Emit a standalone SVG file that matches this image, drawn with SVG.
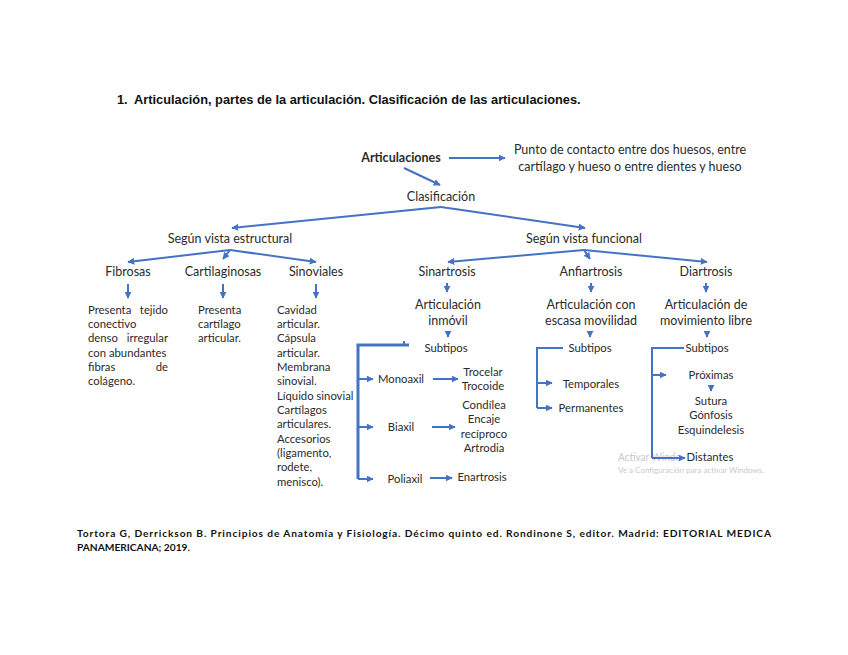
<svg xmlns="http://www.w3.org/2000/svg" width="848" height="655" viewBox="0 0 848 655">
<defs>
<style>
.t{font-family:Lato,"Noto Sans",sans-serif;font-size:12.5px;fill:#2b2b2b;text-anchor:middle}
.s{font-size:11.3px}
.p{font-family:Lato,"Noto Sans",sans-serif;font-size:11.3px;fill:#2b2b2b}
.c{fill:none;stroke:#4472C4;stroke-width:2}
.k{fill:none;stroke:#4472C4;stroke-width:3}
.a{marker-end:url(#ah)}
.wm{font-family:Lato,"Noto Sans",sans-serif;fill:#c9c9c9}
</style>
<marker id="ah" viewBox="0 0 10 10" refX="9" refY="5" markerWidth="7" markerHeight="7" markerUnits="userSpaceOnUse" orient="auto">
<path d="M0,0 L10,5 L0,10 z" fill="#4472C4"/>
</marker>
</defs>
<rect width="848" height="655" fill="#ffffff"/>
<text x="117" y="104" font-family="'Liberation Sans',Arial,sans-serif" font-size="12.8" font-weight="bold" fill="#111">1.</text>
<text x="134" y="104" font-family="'Liberation Sans',Arial,sans-serif" font-size="12.8" font-weight="bold" fill="#111">Articulación, partes de la articulación. Clasificación de las articulaciones.</text>

<g id="connectors">
<path class="c a" d="M449,158 L505,158"/>
<path class="c a" d="M404,168 L440,185"/>
<path class="c a" d="M441,207 L232,228"/>
<path class="c a" d="M441,207 L585,228"/>
<path class="c a" d="M230,250 L128,262"/>
<path class="c a" d="M230,250 L223,259"/>
<path class="c a" d="M230,250 L316,262"/>
<path class="c a" d="M584,250 L448,262"/>
<path class="c a" d="M584,250 L590,259"/>
<path class="c a" d="M584,250 L707,262"/>
<path class="c a" d="M128,284 L128,298"/>
<path class="c a" d="M223,284 L223,298"/>
<path class="c a" d="M316,284 L316,298"/>
<path class="c a" d="M447,283 L447,292"/>
<path class="c a" d="M591,283 L591,292"/>
<path class="c a" d="M706,283 L706,292"/>
<path class="c a" d="M448,331 L448,337"/>
<path class="c a" d="M590,331 L590,337"/>
<path class="c a" d="M707,331 L707,337"/>
<path class="c a" d="M711,385 L711,391"/>
<path class="k" d="M409,345 L358,345 L358,479"/>
<path class="c" d="M404,341 L404,345"/>
<path class="c a" d="M358,379 L373,379"/>
<path class="c a" d="M358,427 L373,427"/>
<path class="c a" d="M358,479 L373,479"/>
<path class="c a" d="M433,379 L458,379"/>
<path class="c a" d="M432,427 L455,427"/>
<path class="c a" d="M430,478 L452,478"/>
<path class="c" d="M563,348 L537,348 L537,408"/>
<path class="c a" d="M537,383 L552,383"/>
<path class="c a" d="M537,408 L552,408"/>
<text class="wm" x="618" y="461" font-size="11" textLength="63" lengthAdjust="spacingAndGlyphs">Activar Windo</text>
<text class="wm" x="618" y="473" font-size="8">Ve a Configuración para activar Windows.</text>
<path class="c" d="M684,348 L652,348 L652,458"/>
<path class="c a" d="M652,375 L666,375"/>
<path class="c a" d="M652,458 L685,458"/>
</g>

<g id="articulaciones"><text class="t" x="401" y="162" font-weight="bold" fill="#111">Articulaciones</text></g>
<g id="definicion">
<text class="t" x="630" y="154">Punto de contacto entre dos huesos, entre</text>
<text class="t" x="630" y="171">cartílago y hueso o entre dientes y hueso</text>
</g>
<g id="clasificacion"><text class="t" x="441" y="201">Clasificación</text></g>
<g id="estructural"><text class="t" x="230" y="243">Según vista estructural</text></g>
<g id="funcional"><text class="t" x="584" y="243">Según vista funcional</text></g>

<g id="fibrosas">
<text class="t" x="128" y="276">Fibrosas</text>
<text class="p" x="88" y="314">Presenta</text><text class="p" x="168" y="314" text-anchor="end">tejido</text>
<text class="p" x="88" y="328">conectivo</text>
<text class="p" x="88" y="342">denso</text><text class="p" x="168" y="342" text-anchor="end">irregular</text>
<text class="p" x="88" y="357">con abundantes</text>
<text class="p" x="88" y="371">fibras</text><text class="p" x="168" y="371" text-anchor="end">de</text>
<text class="p" x="88" y="385">colágeno.</text>
</g>
<g id="cartilaginosas">
<text class="t" x="223" y="276">Cartilaginosas</text>
<text class="p" x="198" y="314">Presenta</text>
<text class="p" x="198" y="328">cartílago</text>
<text class="p" x="198" y="342">articular.</text>
</g>
<g id="sinoviales">
<text class="t" x="316" y="276">Sinoviales</text>
<text class="p" x="277" y="314">Cavidad</text>
<text class="p" x="277" y="328">articular.</text>
<text class="p" x="277" y="342">Cápsula</text>
<text class="p" x="277" y="357">articular.</text>
<text class="p" x="277" y="371">Membrana</text>
<text class="p" x="277" y="385">sinovial.</text>
<text class="p" x="277" y="400">Líquido sinovial</text>
<text class="p" x="277" y="414">Cartílagos</text>
<text class="p" x="277" y="428">articulares.</text>
<text class="p" x="277" y="443">Accesorios</text>
<text class="p" x="277" y="457">(ligamento,</text>
<text class="p" x="277" y="471">rodete,</text>
<text class="p" x="277" y="486">menisco).</text>
</g>

<g id="sinartrosis">
<text class="t" x="447" y="276">Sinartrosis</text>
<text class="t" x="448" y="309">Articulación</text>
<text class="t" x="448" y="325">inmóvil</text>
<text class="t s" x="446" y="352">Subtipos</text>
</g>
<g id="monoaxil">
<text class="t s" x="401" y="383">Monoaxil</text>
<text class="t s" x="483" y="376">Trocelar</text>
<text class="t s" x="483" y="390">Trocoide</text>
</g>
<g id="biaxil">
<text class="t s" x="401" y="431">Biaxil</text>
<text class="t s" x="484" y="409">Condílea</text>
<text class="t s" x="484" y="423">Encaje</text>
<text class="t s" x="484" y="438">recíproco</text>
<text class="t s" x="484" y="452">Artrodia</text>
</g>
<g id="poliaxil">
<text class="t s" x="405" y="483">Poliaxil</text>
<text class="t s" x="482" y="481">Enartrosis</text>
</g>

<g id="anfiartrosis">
<text class="t" x="591" y="276">Anfiartrosis</text>
<text class="t" x="591" y="309">Articulación  con</text>
<text class="t" x="591" y="325">escasa movilidad</text>
<text class="t s" x="590" y="352">Subtipos</text>
<text class="t s" x="591" y="388">Temporales</text>
<text class="t s" x="591" y="412">Permanentes</text>
</g>

<g id="diartrosis">
<text class="t" x="706" y="276">Diartrosis</text>
<text class="t" x="706" y="309">Articulación de</text>
<text class="t" x="706" y="325">movimiento libre</text>
<text class="t s" x="707" y="352">Subtipos</text>
<text class="t s" x="711" y="379">Próximas</text>
<text class="t s" x="711" y="405">Sutura</text>
<text class="t s" x="711" y="419">Gónfosis</text>
<text class="t s" x="711" y="434">Esquindelesis</text>
<text class="t s" x="710" y="461">Distantes</text>
</g>

<g id="referencia">
<text x="77" y="537" font-family="Lato,'Noto Sans',sans-serif" font-size="10.2" font-weight="bold" fill="#111" textLength="694" lengthAdjust="spacing">Tortora G, Derrickson B. Principios de Anatomía y Fisiología. Décimo quinto ed. Rondinone S, editor. Madrid: EDITORIAL MEDICA</text>
<text x="77" y="551" font-family="Lato,'Noto Sans',sans-serif" font-size="10.2" font-weight="bold" fill="#111">PANAMERICANA; 2019.</text>
</g>
</svg>
